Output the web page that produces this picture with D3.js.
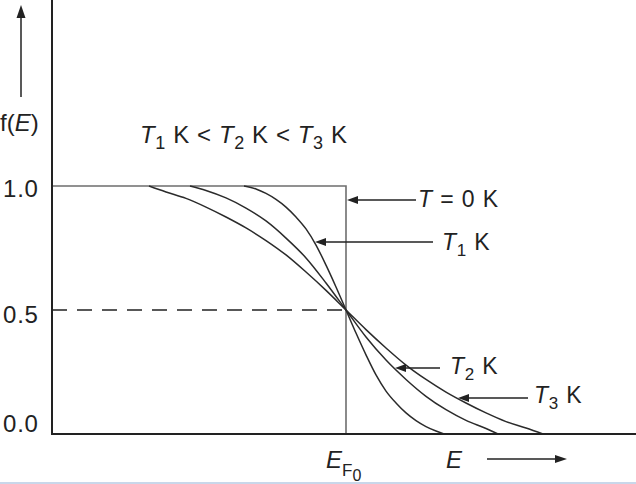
<!DOCTYPE html>
<html><head><meta charset="utf-8">
<script src="https://cdn.jsdelivr.net/npm/d3@7"></script>
<style>
body{margin:0;background:#fff}
svg{display:block}
text{font-family:"Liberation Sans",Arial,Helvetica,sans-serif;fill:#222}
</style></head>
<body><svg id="chart" width="636" height="484"></svg>
<script>
// ---- data (energy in arbitrary units, occupancy f(E)) ----
const fermiEnergy = 2.94;
const energyMax = 5.84;
const occupancyTop = 1.75;

const energyT0 = [0, 2.94, 2.94];
const occT0    = [1.0, 1.0, 0.0];

const energyT1 = [1.92, 2.04, 2.14, 2.24, 2.34, 2.44, 2.54, 2.64, 2.74, 2.84, 2.94, 3.04, 3.14, 3.24, 3.34, 3.44, 3.54, 3.64, 3.74, 3.84, 3.92];
const occT1    = [1.0, 0.988, 0.970, 0.946, 0.915, 0.875, 0.827, 0.762, 0.681, 0.593, 0.5, 0.407, 0.319, 0.238, 0.173, 0.125, 0.085, 0.054, 0.030, 0.012, 0.0];

const energyT2 = [1.38, 1.54, 1.74, 1.94, 2.14, 2.34, 2.54, 2.74, 2.94, 3.14, 3.34, 3.54, 3.74, 3.94, 4.14, 4.34, 4.46];
const occT2    = [1.0, 0.982, 0.952, 0.911, 0.859, 0.790, 0.710, 0.609, 0.5, 0.391, 0.298, 0.220, 0.152, 0.098, 0.055, 0.022, 0.0];

const energyT3 = [0.97, 1.14, 1.34, 1.54, 1.74, 1.94, 2.14, 2.34, 2.54, 2.74, 2.94, 3.14, 3.34, 3.54, 3.74, 3.94, 4.14, 4.34, 4.54, 4.74, 4.91];
const occT3    = [1.0, 0.976, 0.950, 0.915, 0.875, 0.831, 0.780, 0.722, 0.653, 0.579, 0.5, 0.421, 0.347, 0.278, 0.220, 0.169, 0.125, 0.085, 0.050, 0.024, 0.0];

const yTickValues = [0.0, 0.5, 1.0];
const yTickLabels = ["0.0", "0.5", "1.0"];

// annotation targets (E, f) on each curve
const annotEnergy = [2.94, 2.63, 3.43, 4.06];
const annotOcc    = [0.944, 0.774, 0.266, 0.145];

// ---- drawing ----
const svg = d3.select("#chart");
const x = d3.scaleLinear().domain([0, energyMax]).range([52, 636]);
const y = d3.scaleLinear().domain([0, 1]).range([434, 186]);

svg.append("rect").attr("x",0).attr("y",482).attr("width",636).attr("height",2).attr("fill","#c9d7ea");

function arrowHead(g, tx, ty, dir, len, hw){
  const [dx,dy] = dir, px=-dy, py=dx;
  const bx = tx - dx*len, by = ty - dy*len;
  g.append("path")
    .attr("d", `M${tx},${ty}L${bx+px*hw},${by+py*hw}L${bx-px*hw},${by-py*hw}Z`)
    .attr("fill","#222");
}
function arrow(g, x1, y1, x2, y2, len=11, hw=4){
  const L = Math.hypot(x2-x1, y2-y1), d=[(x2-x1)/L,(y2-y1)/L];
  g.append("line").attr("x1",x1).attr("y1",y1).attr("x2",x2-d[0]*len*0.6).attr("y2",y2-d[1]*len*0.6)
    .attr("stroke","#222").attr("stroke-width",1.5);
  arrowHead(g, x2, y2, d, len, hw);
}

// dashed half line
svg.append("line")
  .attr("x1", x(0)).attr("x2", x(fermiEnergy))
  .attr("y1", y(0.5)).attr("y2", y(0.5))
  .attr("stroke","#222").attr("stroke-width",1.5).attr("stroke-dasharray","15,10");

// T = 0 step
const toPts = (es, fs) => es.map((e,i)=>[e, fs[i]]);
const stepLine = d3.line().x(d=>x(d[0])).y(d=>y(d[1]));
svg.append("path").attr("d", stepLine(toPts(energyT0, occT0)))
  .attr("fill","none").attr("stroke","#6e6e6e").attr("stroke-width",1.6);

// curves
const curve = d3.line().x(d=>x(d[0])).y(d=>y(d[1])).curve(d3.curveMonotoneX);
[[energyT1,occT1],[energyT2,occT2],[energyT3,occT3]].forEach(([es,fs])=>{
  svg.append("path").attr("d", curve(toPts(es,fs)))
    .attr("fill","none").attr("stroke","#2b2b2b").attr("stroke-width",1.5);
});

// axes
svg.append("path").attr("d", `M${x(0)},${y(occupancyTop)}V${y(0)}H${x(energyMax)}`)
  .attr("fill","none").attr("stroke","#222").attr("stroke-width",2);

// y tick labels
const tickDy = {"0":-2, "0.5":13, "1":11};
svg.selectAll("text.ytick").data(yTickValues).enter().append("text")
  .attr("class","ytick")
  .attr("x", 3).attr("y", d=>y(d) + tickDy[String(d)])
  .attr("font-size", 24).attr("letter-spacing", 0.8)
  .text((d,i)=>yTickLabels[i]);

// y label and arrow
const yl = svg.append("text").attr("x",0).attr("y",131).attr("font-size",24);
yl.append("tspan").text("f(");
yl.append("tspan").attr("font-style","italic").text("E");
yl.append("tspan").text(")");
arrow(svg, 21, 97, 21, 5, 13, 4.5);

// condition text
function tLabel(g, xx, yy, parts, fs=24, ls=0.5){
  const t = g.append("text").attr("x",xx).attr("y",yy).attr("font-size",fs).attr("letter-spacing",ls);
  parts.forEach(p=>{
    const s = t.append("tspan");
    if(p.it) s.attr("font-style","italic");
    if(p.sub){ s.attr("font-size",Math.round(fs*0.75)).attr("dy",6); }
    if(p.up){ s.attr("dy",-6); }
    s.text(p.t);
  });
  return t;
}
tLabel(svg, 140, 143, [
  {t:"T",it:1},{t:"1",sub:1},{t:" K < ",up:1},
  {t:"T",it:1},{t:"2",sub:1},{t:" K < ",up:1},
  {t:"T",it:1},{t:"3",sub:1},{t:" K",up:1}
], 24, 0.6);

// annotations
const tipX = annotEnergy.map(e=>x(e)), tipY = annotOcc.map(f=>y(f));
arrow(svg, 416, tipY[0], tipX[0]+1, tipY[0]);
tLabel(svg, 418, 207, [{t:"T",it:1},{t:" = 0 K"}], 23, 0.9);
arrow(svg, 433, tipY[1], tipX[1], tipY[1]);
tLabel(svg, 442, 250, [{t:"T",it:1},{t:"1",sub:1},{t:" K",up:1}], 23, 0.8);
arrow(svg, 440, tipY[2], tipX[2], tipY[2]);
tLabel(svg, 450, 374, [{t:"T",it:1},{t:"2",sub:1},{t:" K",up:1}], 23, 0.8);
arrow(svg, 528, tipY[3], tipX[3], tipY[3]);
tLabel(svg, 534, 403, [{t:"T",it:1},{t:"3",sub:1},{t:" K",up:1}], 23, 0.8);

// x labels
const ef = svg.append("text").attr("x",326).attr("y",468).attr("font-size",24);
ef.append("tspan").attr("font-style","italic").text("E");
ef.append("tspan").attr("font-size",17).attr("dy",8).text("F");
ef.append("tspan").attr("font-size",16).attr("dy",5).text("0");
svg.append("text").attr("x",446).attr("y",468).attr("font-size",24).attr("font-style","italic").text("E");
arrow(svg, 487, 459, 567, 459, 12, 4);
</script></body></html>
